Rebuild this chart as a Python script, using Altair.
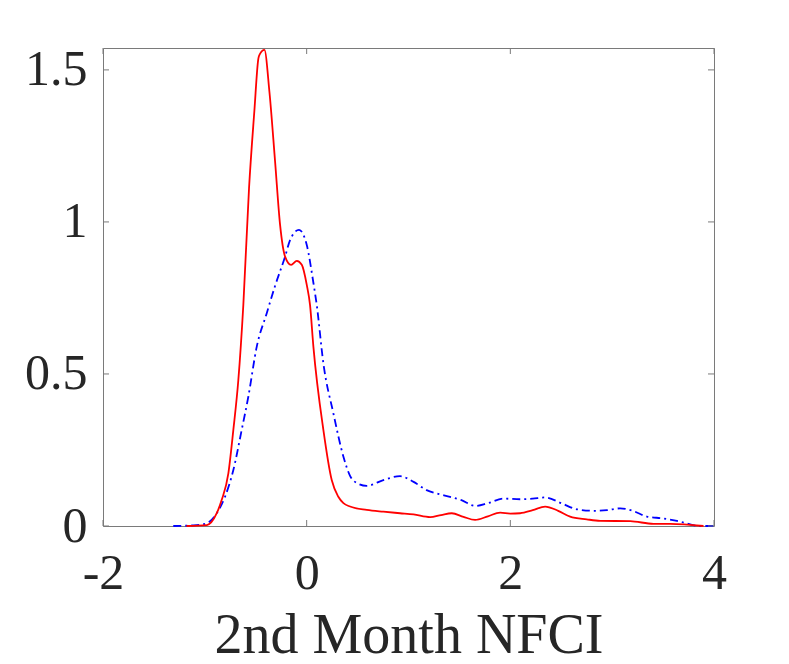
import altair as alt
import pandas as pd

# Red (solid) density curve
red_x = [-1.18, -0.98, -0.883, -0.834, -0.769, -0.72, -0.671, -0.622, -0.566, -0.514,
         -0.474, -0.461, -0.415, -0.366, -0.31, -0.261, -0.212, -0.153, -0.097, -0.048,
         0.001, 0.033, 0.066, 0.164, 0.246, 0.311, 0.361, 0.426, 0.59, 0.753,
         0.917, 1.05, 1.212, 1.32, 1.425, 1.54, 1.654, 1.78, 1.9, 2.0,
         2.096, 2.22, 2.342, 2.47, 2.587, 2.75, 2.882, 3.177, 3.406, 3.57, 3.897]
red_y = [0.0, 0.003, 0.042, 0.086, 0.173, 0.316, 0.48, 0.727, 1.111, 1.363,
         1.538, 1.551, 1.566, 1.429, 1.198, 0.99, 0.886, 0.859, 0.872, 0.859,
         0.793, 0.727, 0.59, 0.316, 0.151, 0.096, 0.075, 0.064, 0.053, 0.047,
         0.042, 0.038, 0.029, 0.036, 0.042, 0.030, 0.020, 0.032, 0.044, 0.041,
         0.042, 0.052, 0.064, 0.050, 0.031, 0.022, 0.017, 0.016, 0.007, 0.007, 0.0]

# Blue (dash-dot) density curve
blue_x = [-1.31, -1.11, -0.98, -0.883, -0.802, -0.72, -0.638, -0.573, -0.49, -0.392,
          -0.31, -0.212, -0.163, -0.075, 0.001, 0.066, 0.099, 0.164, 0.262, 0.361,
          0.426, 0.5, 0.59, 0.753, 0.917, 1.05, 1.178, 1.3, 1.408, 1.52,
          1.654, 1.78, 1.932, 2.096, 2.22, 2.342, 2.5, 2.653, 2.816, 2.95,
          3.079, 3.2, 3.341, 3.5, 3.636, 3.865, 4.0]
blue_y = [0.0, 0.002, 0.009, 0.042, 0.096, 0.184, 0.316, 0.425, 0.59, 0.70,
          0.79, 0.886, 0.94, 0.974, 0.924, 0.80, 0.727, 0.535, 0.371, 0.228,
          0.165, 0.14, 0.132, 0.151, 0.164, 0.145, 0.118, 0.105, 0.096, 0.085,
          0.066, 0.075, 0.09, 0.088, 0.09, 0.094, 0.075, 0.055, 0.05, 0.052,
          0.058, 0.05, 0.031, 0.025, 0.017, 0.0, 0.0]

x_ticks = [-2, 0, 2, 4]
y_ticks = [0, 0.5, 1, 1.5]
x_title = "2nd Month NFCI"

W, H = 611, 478
FONT = "Liberation Serif"
FRAME = "#7a7a7a"

red_df = pd.DataFrame({"x": red_x, "y": red_y})
blue_df = pd.DataFrame({"x": blue_x, "y": blue_y})
xt_df = pd.DataFrame({"x": x_ticks})
yt_df = pd.DataFrame({"y": y_ticks})

xscale = alt.Scale(domain=[-2, 4], nice=False, zero=False)
yscale = alt.Scale(domain=[0, 1.572], nice=False, zero=False)

xaxis = alt.Axis(values=x_ticks, ticks=False, domain=False, grid=False,
                 labelFont=FONT, labelFontSize=50, labelColor="#262626",
                 labelPadding=22, labelFlush=False, labelOverlap=False,
                 labelExpr="'' + datum.value",
                 title=x_title, titleFont=FONT, titleFontSize=56,
                 titleFontWeight="normal", titleColor="#262626",
                 titleBaseline="alphabetic", titleY=126, titleX=W / 2,
                 titleAlign="center")
yaxis = alt.Axis(values=y_ticks, ticks=False, domain=False, grid=False,
                 labelFont=FONT, labelFontSize=50, labelColor="#262626",
                 labelPadding=16, labelFlush=False, labelOverlap=False,
                 title=None, labelExpr="'' + datum.value")

blue = alt.Chart(blue_df).mark_line(
    color="#0000ff", strokeWidth=1.8, strokeDash=[8, 4, 2, 4],
    interpolate="monotone"
).encode(
    x=alt.X("x:Q", scale=xscale, axis=xaxis),
    y=alt.Y("y:Q", scale=yscale, axis=yaxis),
)

red = alt.Chart(red_df).mark_line(
    color="#ff0000", strokeWidth=1.8, interpolate="monotone"
).encode(
    x=alt.X("x:Q", scale=xscale),
    y=alt.Y("y:Q", scale=yscale),
)

TL = 6
bottom_ticks = alt.Chart(xt_df).mark_rule(color=FRAME, strokeWidth=1).encode(
    x=alt.X("x:Q", scale=xscale), y=alt.value(H), y2=alt.value(H - TL))
top_ticks = alt.Chart(xt_df).mark_rule(color=FRAME, strokeWidth=1).encode(
    x=alt.X("x:Q", scale=xscale), y=alt.value(0), y2=alt.value(TL))
left_ticks = alt.Chart(yt_df).mark_rule(color=FRAME, strokeWidth=1).encode(
    y=alt.Y("y:Q", scale=yscale), x=alt.value(0), x2=alt.value(TL))
right_ticks = alt.Chart(yt_df).mark_rule(color=FRAME, strokeWidth=1).encode(
    y=alt.Y("y:Q", scale=yscale), x=alt.value(W), x2=alt.value(W - TL))

chart = alt.layer(
    blue, red, bottom_ticks, top_ticks, left_ticks, right_ticks
).properties(
    width=W, height=H,
    autosize=alt.AutoSizeParams(type="none"),
    padding={"left": 95, "top": 40, "right": 60, "bottom": 138},
    background="white",
).configure_view(
    stroke=FRAME, strokeWidth=1
)

chart.save("out.html", embed_options={"renderer": "svg", "actions": False})
